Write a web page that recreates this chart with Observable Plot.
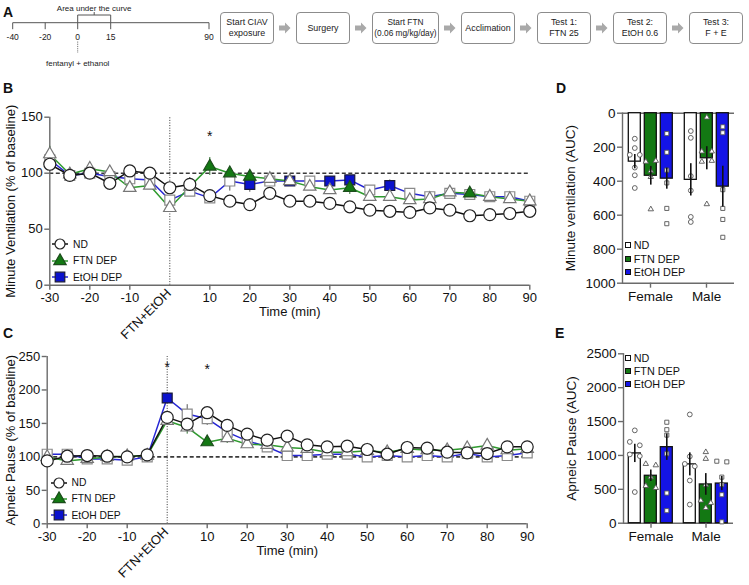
<!DOCTYPE html>
<html>
<head>
<meta charset="utf-8">
<script src="https://cdn.jsdelivr.net/npm/d3@7"></script>
<script src="https://cdn.jsdelivr.net/npm/@observablehq/plot@0.6"></script>
<style>
  html, body { margin: 0; padding: 0; background: #fff; }
  #figure { position: relative; width: 749px; height: 585px; overflow: hidden;
            font-family: "Liberation Sans", Arial, Helvetica, sans-serif; color: #111; }
  .abs { position: absolute; }
  .tag { position: absolute; font-weight: bold; font-size: 14px; line-height: 14px; }
  .flow { position: absolute; left: 220px; top: 11.5px; display: flex; align-items: center; }
  .box { box-sizing: border-box; height: 32.5px; width: 54px; border: 1px solid #8c8c8c; border-radius: 4px;
         display: flex; align-items: center; justify-content: center; text-align: center; white-space: nowrap;
         font-size: 8.9px; line-height: 10.5px; color: #222; }
  .arrow { width: 22px; height: 12px; display: flex; justify-content: center; }
  .lrow { position: absolute; display: flex; align-items: center; height: 16px; white-space: nowrap; }
</style>
</head>
<body>
<div id="figure"></div>
<script>
// ---------- shared look ----------
const FONT = '"Liberation Sans", Arial, Helvetica, sans-serif';
const AXIS = "#6b6b6b";
const GREEN = "#137813", GREEN_LINE = "#2f9a2f";
const BLUE = "#0b12cc", BLUE_LINE = "#2626d4";

// ---------- Panel A: protocol ----------
const timelineTicks = [-40, -20, 0, 15, 90];
const aucWindow = [0, 15];
const doseTime = 0;
const protocolSteps = [
  ["Start CIAV", "exposure"],
  ["Surgery"],
  ["Start FTN", "(0.06 mg/kg/day)"],
  ["Acclimation"],
  ["Test 1:", "FTN 25"],
  ["Test 2:", "EtOH 0.6"],
  ["Test 3:", "F + E"]
];

// ---------- Panels B and C: time course (% of baseline) ----------
const time = [-30, -25, -20, -15, -10, -5, 0, 5, 10, 15, 20, 25, 30, 35, 40, 45, 50, 55, 60, 65, 70, 75, 80, 85, 90];
const timeTicks = [-30, -20, -10, 10, 20, 30, 40, 50, 60, 70, 80, 90];

const ventND   = [108, 98, 100, 91, 102, 100, 87, 90, 80, 75, 72, 82, 75, 75, 73, 70, 67, 66, 65, 69, 67, 62, 63, 64, 66];
const ventFTN  = [117, 99, 104, 101, 87, 89, 69, 88, 106, 100, 97, 95, 93, 88, 85, 87, 79, 79, 76, 77, 83, 82, 79, 77, 75];
const ventEtOH = [112, 98, 100, 97, 95, 94, 76, 84, 78, 93, 90, 93, 93, 93, 93, 94, 85, 89, 82, 79, 82, 81, 79, 79, 75];
const ventFTNSig  = [10, 15, 20, 45, 75];
const ventEtOHSig = [20, 30, 40, 45, 55];
const ventStars = [{t: 10, v: 133}];
const ventSem = [
  {group: "FTN DEP", t: -30, sem: 7}, {group: "FTN DEP", t: 10, sem: 8}, {group: "ND", t: 5, sem: 6},
  {group: "EtOH DEP", t: 15, sem: 9}, {group: "EtOH DEP", t: 20, sem: 7}, {group: "ND", t: 25, sem: 5},
  {group: "ND", t: 30, sem: 4}, {group: "FTN DEP", t: 45, sem: 6}, {group: "EtOH DEP", t: 55, sem: 5},
  {group: "FTN DEP", t: 90, sem: 6}
];

const pauseND   = [94, 101, 102, 101, 100, 103, 159, 149, 166, 147, 134, 125, 131, 118, 115, 116, 111, 104, 114, 113, 107, 106, 105, 115, 115];
const pauseFTN  = [100, 94, 97, 100, 101, 102, 154, 144, 122, 128, 119, 118, 114, 112, 107, 107, 109, 107, 112, 110, 110, 113, 117, 110, 112];
const pauseEtOH = [104, 104, 97, 97, 95, 100, 188, 164, 157, 137, 124, 115, 102, 102, 104, 104, 100, 102, 100, 102, 100, 105, 100, 102, 106];
const pauseFTNSig  = [10];
const pauseEtOHSig = [0];
const pauseStars = [{t: 0, v: 234}, {t: 10, v: 231}];
const pauseSem = [
  {group: "EtOH DEP", t: 5, sem: 14}, {group: "ND", t: 5, sem: 10}, {group: "FTN DEP", t: 5, sem: 10},
  {group: "ND", t: 10, sem: 7}, {group: "EtOH DEP", t: 10, sem: 10}, {group: "ND", t: 15, sem: 8},
  {group: "FTN DEP", t: 15, sem: 8}, {group: "EtOH DEP", t: 20, sem: 6}
];

// ---------- Panels D and E: area under the curve ----------
const sexes = ["Female", "Male"];
const groups = ["ND", "FTN DEP", "EtOH DEP"];

const mvMeanFemale = [285, 368, 385];
const mvMeanMale   = [392, 265, 432];
const mvSemFemale  = [42, 55, 62];
const mvSemMale    = [95, 68, 120];
const mvPtsFemaleND   = [150, 205, 245, 245, 320, 365, 440];
const mvPtsFemaleFTN  = [280, 285, 340, 375, 565];
const mvPtsFemaleEtOH = [120, 230, 335, 410, 560, 650];
const mvPtsMaleND     = [105, 145, 370, 455, 610, 640];
const mvPtsMaleFTN    = [25, 225, 225, 280, 285, 535];
const mvPtsMaleEtOH   = [80, 115, 450, 560, 625, 730];

const apMeanFemale = [1030, 700, 1122];
const apMeanMale   = [868, 572, 585];
const apSemFemale  = [135, 85, 195];
const apSemMale    = [170, 160, 105];
const apPtsFemaleND   = [1370, 1200, 1150, 1015, 990, 460];
const apPtsFemaleFTN  = [875, 855, 680, 550, 520];
const apPtsFemaleEtOH = [1490, 1380, 1300, 1025, 445, 185];
const apPtsMaleND     = [1605, 985, 875, 840, 630, 275];
const apPtsMaleFTN    = [1050, 950, 565, 335, 300, 225];
const apPtsMaleEtOH   = [915, 905, 680, 570, 420, 20];

const barFill = ["white", GREEN, "#1414e6"];
const pointSymbol = ["circle", "triangle", "square"];
const pointR = [2.4, 2.0, 2.3];

// ---------- helpers ----------
const fig = d3.select("#figure");

function place(node, left, top) {
  fig.append("div").attr("class", "abs").style("left", left + "px").style("top", top + "px").node().appendChild(node);
}

function tag(letter, left, top) {
  fig.append("div").attr("class", "tag").style("left", left + "px").style("top", top + "px").text(letter);
}

function seriesRows(values, group, sig) {
  return time.map((t, i) => ({t, v: values[i], group, filled: sig.includes(t)}));
}

function timeCourse(o) {
  const nd = seriesRows(o.nd, "ND", []);
  const ftn = seriesRows(o.ftn, "FTN DEP", o.ftnSig);
  const et = seriesRows(o.etoh, "EtOH DEP", o.etohSig);
  const lookup = {"ND": nd, "FTN DEP": ftn, "EtOH DEP": et};
  const semColor = {"ND": "#222", "FTN DEP": "#2d6d2d", "EtOH DEP": "#555"};
  const semRows = o.sem.map(s => ({...s, v: lookup[s.group][time.indexOf(s.t)].v, color: semColor[s.group]}));
  return Plot.plot({
    width: 545, height: o.height,
    marginLeft: o.marginLeft, marginRight: 545 - o.marginLeft - 480,
    marginTop: o.marginTop, marginBottom: o.marginBottom,
    x: {domain: [-30, 90]},
    y: {domain: [0, o.yMax]},
    color: {type: "identity"},
    style: {fontFamily: FONT, fontSize: "13px", color: "#111", background: "transparent", overflow: "visible"},
    marks: [
      Plot.ruleY([100], {stroke: "#3a3a3a", strokeWidth: 1.6, strokeDasharray: "4,2.5"}),
      Plot.ruleX([0], {y1: 0, y2: o.yMax, stroke: "#333", strokeWidth: 1, strokeDasharray: "1,1.6"}),
      Plot.ruleY([0], {stroke: AXIS, strokeWidth: 1.4}),
      Plot.ruleX([-30], {stroke: AXIS, strokeWidth: 1.4}),
      Plot.axisY({ticks: o.yTicks, tickSize: 5, tickPadding: 2, stroke: AXIS, strokeWidth: 1.4, label: null, tickFormat: d => String(d), fontSize: 13}),
      Plot.axisX({ticks: timeTicks, tickSize: 5, tickPadding: 3, stroke: AXIS, strokeWidth: 1.4, label: null, tickFormat: d => String(d), fontSize: 13}),
      Plot.ruleX(semRows, {x: "t", y1: d => d.v - d.sem, y2: d => d.v + d.sem, stroke: "color", strokeWidth: 1}),
      Plot.line(et, {x: "t", y: "v", stroke: BLUE_LINE, strokeWidth: 1.5}),
      Plot.line(ftn, {x: "t", y: "v", stroke: GREEN_LINE, strokeWidth: 1.5}),
      Plot.line(nd, {x: "t", y: "v", stroke: "#111", strokeWidth: 1.5}),
      Plot.dot(et, {x: "t", y: "v", symbol: "square", r: 5.6,
        fill: d => d.filled ? BLUE : "white", stroke: d => d.filled ? "#1a1a3a" : "#8a8a8a", strokeWidth: 1.2}),
      Plot.dot(ftn, {x: "t", y: "v", symbol: "triangle", r: 4.6,
        fill: d => d.filled ? GREEN : "white", stroke: d => d.filled ? "#1d4d1d" : "#777", strokeWidth: 1.2}),
      Plot.dot(nd, {x: "t", y: "v", symbol: "circle", r: 6, fill: "white", stroke: "#222", strokeWidth: 1.2}),
      Plot.text(o.stars, {x: "t", y: "v", text: () => "*", fontSize: 14, fill: "#111"}),
      Plot.text(["FTN+EtOH"], {x: () => doseTime, frameAnchor: "bottom", text: d => d, rotate: -45,
        textAnchor: "end", dx: 2, dy: 9, fontSize: 13}),
      Plot.text(["Time (min)"], {frameAnchor: "bottom", text: d => d, dy: 31, fontSize: 13}),
      Plot.text([o.yLabel], {frameAnchor: "left", text: d => d, rotate: -90, textAnchor: "middle",
        dx: -(o.marginLeft - 10), fontSize: 13})
    ]
  });
}

function spreadPairs(values, gap) {
  // side-by-side placement for points with nearly equal values
  const sorted = values.slice().sort((a, b) => b - a);
  const out = [];
  for (let i = 0; i < sorted.length;) {
    if (i + 1 < sorted.length && sorted[i] - sorted[i + 1] < gap) {
      out.push({v: sorted[i], side: -1}, {v: sorted[i + 1], side: 1});
      i += 2;
    } else {
      out.push({v: sorted[i], side: 0});
      i += 1;
    }
  }
  return out;
}

function aucChart(o) {
  const bars = [], pts = [];
  sexes.forEach((sex, si) => groups.forEach((group, gi) => {
    bars.push({sex, group, mean: o.means[si][gi], sem: o.sems[si][gi], fill: barFill[gi]});
    for (const p of spreadPairs(o.points[si][gi], o.pairGap)) pts.push({sex, group, gi, ...p});
  }));
  const dots = [];
  groups.forEach((g, gi) => [-1, 0, 1].forEach(side => {
    dots.push(Plot.dot(pts.filter(p => p.gi === gi && p.side === side), {
      fx: "sex", x: "group", y: "v", dx: side * 5, symbol: pointSymbol[gi], r: pointR[gi],
      fill: "white", stroke: "#555", strokeWidth: 0.9
    }));
  }));
  return Plot.plot({
    width: 204, height: 245,
    marginLeft: o.marginLeft, marginRight: 15, marginTop: o.marginTop, marginBottom: o.marginBottom,
    fx: {domain: sexes, padding: 0, label: null},
    x: {domain: groups, paddingInner: 0.25, paddingOuter: 0.28, axis: null},
    y: {domain: o.yDomain, reverse: o.reverse},
    color: {type: "identity"},
    style: {fontFamily: FONT, fontSize: "13.5px", color: "#111", background: "transparent", overflow: "visible"},
    marks: [
      Plot.ruleY(o.baselines, {stroke: AXIS, strokeWidth: 1.4}),
      Plot.frame({anchor: "left", facet: "super", stroke: AXIS, strokeWidth: 1.4}),
      Plot.barY(bars, {fx: "sex", x: "group", y: "mean", fill: "fill", stroke: "#111", strokeWidth: 1.3}),
      ...dots,
      Plot.ruleX(bars, {fx: "sex", x: "group", y1: d => d.mean - d.sem, y2: d => d.mean + d.sem, stroke: "#111", strokeWidth: 1.6}),
      Plot.axisY({ticks: o.yTicks, tickSize: 5, tickPadding: 2, stroke: AXIS, strokeWidth: 1.4, tickFormat: d => String(d),
        label: o.yLabel, labelAnchor: "center", labelOffset: 57, labelArrow: "none", fontSize: 13.5}),
      Plot.axisFx({anchor: "bottom", tickSize: 5, tickPadding: 3, stroke: AXIS, strokeWidth: 1.4, label: null, fontSize: 13.5})
    ]
  });
}

function symbolPath(kind, r) {
  const type = {circle: d3.symbolCircle, triangle: d3.symbolTriangle, square: d3.symbolSquare}[kind];
  return d3.symbol(type, r * r * Math.PI)();
}

function lineLegend(left, top, step) {
  const items = [
    {label: "ND", line: "#111", kind: "circle", r: 5, fill: "white", stroke: "#222"},
    {label: "FTN DEP", line: GREEN_LINE, kind: "triangle", r: 4.6, fill: GREEN, stroke: "#1d4d1d"},
    {label: "EtOH DEP", line: BLUE_LINE, kind: "square", r: 5.4, fill: BLUE, stroke: "#1a1a3a"}
  ];
  items.forEach((it, i) => {
    const row = fig.append("div").attr("class", "lrow")
      .style("left", (left - 9) + "px").style("top", (top + i * step - 8) + "px");
    const svg = row.append("svg").attr("width", 18).attr("height", 16).style("overflow", "visible");
    svg.append("line").attr("x1", 1).attr("x2", 17).attr("y1", 8).attr("y2", 8)
      .attr("stroke", it.line).attr("stroke-width", 1.5);
    svg.append("path").attr("d", symbolPath(it.kind, it.r)).attr("transform", "translate(9,8)")
      .attr("fill", it.fill).attr("stroke", it.stroke).attr("stroke-width", 1.2);
    row.append("span").style("margin-left", "4px").style("font-size", "10.3px").text(it.label);
  });
}

function barLegend(left, top, step) {
  groups.forEach((g, i) => {
    const row = fig.append("div").attr("class", "lrow")
      .style("left", (left - 4) + "px").style("top", (top + i * step - 8) + "px");
    const svg = row.append("svg").attr("width", 8).attr("height", 16);
    svg.append("rect").attr("x", 1.5).attr("y", 5.5).attr("width", 5).attr("height", 5)
      .attr("fill", barFill[i]).attr("stroke", "#111").attr("stroke-width", 1);
    row.append("span").style("margin-left", "2px").style("font-size", "10.8px").text(g);
  });
}

// ---------- Panel A ----------
tag("A", 3, 5);
{
  // schematic (not to scale) session timeline
  const sx = d3.scaleLinear().domain([-40, 0, 15, 90]).range([12.7, 77.7, 110.7, 209]);
  const lineY = 22.7, ink = "#555";
  const svg = d3.create("svg").attr("width", 220).attr("height", 75)
    .style("font-family", FONT).style("overflow", "visible");
  svg.append("line").attr("x1", sx(timelineTicks[0])).attr("x2", sx(timelineTicks[timelineTicks.length - 1]))
    .attr("y1", lineY).attr("y2", lineY).attr("stroke", ink);
  const tk = svg.selectAll("g.tk").data(timelineTicks).join("g").attr("transform", d => `translate(${sx(d)},0)`);
  tk.append("line").attr("y1", lineY).attr("y2", lineY + 6.5).attr("stroke", ink);
  tk.append("text").attr("y", lineY + 14.5).attr("dy", "0.32em").attr("text-anchor", "middle")
    .attr("font-size", 8.5).attr("fill", "#222").text(d => String(d));
  const a0 = sx(aucWindow[0]), a1 = sx(aucWindow[1]), am = (a0 + a1) / 2;
  svg.append("path").attr("d", `M${a0},${lineY}V15H${a1}V${lineY}M${am},15V12`).attr("fill", "none").attr("stroke", ink);
  svg.append("text").attr("x", am).attr("y", 8.5).attr("dy", "0.32em").attr("text-anchor", "middle")
    .attr("font-size", 8).attr("fill", "#222").text("Area under the curve");
  svg.append("line").attr("x1", sx(doseTime)).attr("x2", sx(doseTime)).attr("y1", 41.5).attr("y2", 53)
    .attr("stroke", "#777").attr("stroke-dasharray", "1.2,1");
  svg.append("text").attr("x", sx(doseTime)).attr("y", 63).attr("dy", "0.32em").attr("text-anchor", "middle")
    .attr("font-size", 8).attr("fill", "#222").text("fentanyl + ethanol");
  place(svg.node(), 0, 0);
}

const flow = fig.append("div").attr("class", "flow");
protocolSteps.forEach((lines, i) => {
  if (i > 0) {
    const a = flow.append("div").attr("class", "arrow").append("svg").attr("width", 12).attr("height", 12);
    a.append("polygon").attr("points", "0,3.5 6,3.5 6,0.5 11.5,6 6,11.5 6,8.5 0,8.5").attr("fill", "#a9a9a9");
  }
  const b = flow.append("div").attr("class", "box").style("width", i === 2 ? "67px" : "54px");
  if (i === 2) b.style("font-size", "8.3px");
  b.html(lines.join("<br>"));
});

// ---------- Panel B ----------
tag("B", 3, 81);
place(timeCourse({
  nd: ventND, ftn: ventFTN, etoh: ventEtOH, ftnSig: ventFTNSig, etohSig: ventEtOHSig,
  stars: ventStars, sem: ventSem, yMax: 150, yTicks: [0, 50, 100, 150],
  yLabel: "Minute Ventilation (% of baseline)",
  height: 240, marginLeft: 49.3, marginTop: 16.7, marginBottom: 55.3
}), 0, 100);
lineLegend(60, 244, 16.6);

// ---------- Panel C ----------
tag("C", 3, 326);
place(timeCourse({
  nd: pauseND, ftn: pauseFTN, etoh: pauseEtOH, ftnSig: pauseFTNSig, etohSig: pauseEtOHSig,
  stars: pauseStars, sem: pauseSem, yMax: 250, yTicks: [0, 50, 100, 150, 200, 250],
  yLabel: "Apneic Pause (% of baseline)",
  height: 255, marginLeft: 46.7, marginTop: 26, marginBottom: 61.7
}), 0, 330);
lineLegend(58.5, 482.7, 16.2);

// ---------- Panel D ----------
tag("D", 556, 81);
place(aucChart({
  means: [mvMeanFemale, mvMeanMale], sems: [mvSemFemale, mvSemMale],
  points: [[mvPtsFemaleND, mvPtsFemaleFTN, mvPtsFemaleEtOH], [mvPtsMaleND, mvPtsMaleFTN, mvPtsMaleEtOH]],
  pairGap: 25, yDomain: [0, 1000], reverse: true, yTicks: [0, 200, 400, 600, 800, 1000],
  baselines: [0, 1000], yLabel: "Minute ventilation (AUC)",
  marginLeft: 76.7, marginTop: 37.7, marginBottom: 37.3
}), 545, 75);
barLegend(627.7, 245, 13.5);

// ---------- Panel E ----------
tag("E", 555, 326);
place(aucChart({
  means: [apMeanFemale, apMeanMale], sems: [apSemFemale, apSemMale],
  points: [[apPtsFemaleND, apPtsFemaleFTN, apPtsFemaleEtOH], [apPtsMaleND, apPtsMaleFTN, apPtsMaleEtOH]],
  pairGap: 60, yDomain: [0, 2500], reverse: false, yTicks: [0, 500, 1000, 1500, 2000, 2500],
  baselines: [0], yLabel: "Apneic Pause (AUC)",
  marginLeft: 77.7, marginTop: 33.3, marginBottom: 42.3
}), 545, 320);
barLegend(627.7, 358.3, 13);
</script>
</body>
</html>
